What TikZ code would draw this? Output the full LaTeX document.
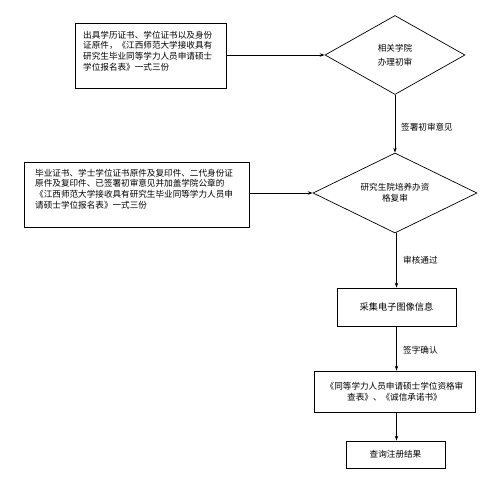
\documentclass[tikz,border=0pt]{standalone}
\usepackage{fontspec}
\setmainfont{Noto Sans CJK SC}
\usetikzlibrary{shapes.geometric,arrows.meta}
\begin{document}
\begin{tikzpicture}[x=1pt,y=-1pt,
  font=\fontsize{8.6}{10.8}\selectfont,
  box/.style={draw, line width=0.8pt, inner sep=0pt},
  dia/.style={draw, line width=0.7pt, diamond, inner sep=0pt},
  txt/.style={inner sep=0pt, align=left, anchor=north west},
  arr/.style={draw, line width=0.7pt, -{Stealth[length=5pt,width=3.5pt]}},
  lbl/.style={inner sep=0pt, anchor=west}]
\useasboundingbox (0,0) rectangle (496,491);
% boxes
\node[box, minimum width=151pt, minimum height=65pt] (b1) at (150.5,55.5) {};
\node[txt] (t1) at (83,30.6) {出具学历证书、学位证书以及身份\\证原件，《江西师范大学接收具有\\研究生毕业同等学力人员申请硕士\\学位报名表》一式三份};
\node[dia, minimum width=140pt, minimum height=79pt, aspect=1.77, align=center, font=\fontsize{8.6}{14}\selectfont] (d1) at (395,55) {相关学院\\办理初审};
\node[box, minimum width=225pt, minimum height=65pt] (b2) at (136.5,194.5) {};
\node[txt] (t2) at (35,168.6) {毕业证书、学士学位证书原件及复印件、二代身份证\\原件及复印件、已签署初审意见并加盖学院公章的\\《江西师范大学接收具有研究生毕业同等学力人员申\\请硕士学位报名表》一式三份};
\node[dia, minimum width=164pt, minimum height=80pt, aspect=2.05, align=center] (d2) at (395,193) {研究生院培养办资\\格复审};
\node[box, minimum width=119pt, minimum height=38pt, font=\fontsize{9.2}{11}\selectfont] (b3) at (396.5,307) {采集电子图像信息};
\node[box, minimum width=161pt, minimum height=41pt, align=center] (b4) at (394.5,391.5) {《同等学力人员申请硕士学位资格审\\查表》、《诚信承诺书》};
\node[box, minimum width=99pt, minimum height=27pt] (b5) at (395.5,454.5) {查询注册结果};
% connectors
\draw[arr] (b1.east |- d1.west) -- (d1.west);
\draw[arr] (b2.east |- d2.west) -- (d2.west);
\draw[arr] (d1.south) -- (d2.north);
\draw[arr] (d2.south -| b3.north) -- (b3.north);
\draw[arr] (b3.south) -- (b3.south |- b4.north);
\draw[arr] (b3.south |- b4.south) -- (b3.south |- b5.north);
% labels
\node[lbl] (l1) at (401,127) {签署初审意见};
\node[lbl] (l2) at (403,260) {审核通过};
\node[lbl] (l3) at (403,350) {签字确认};
\end{tikzpicture}
\end{document}
